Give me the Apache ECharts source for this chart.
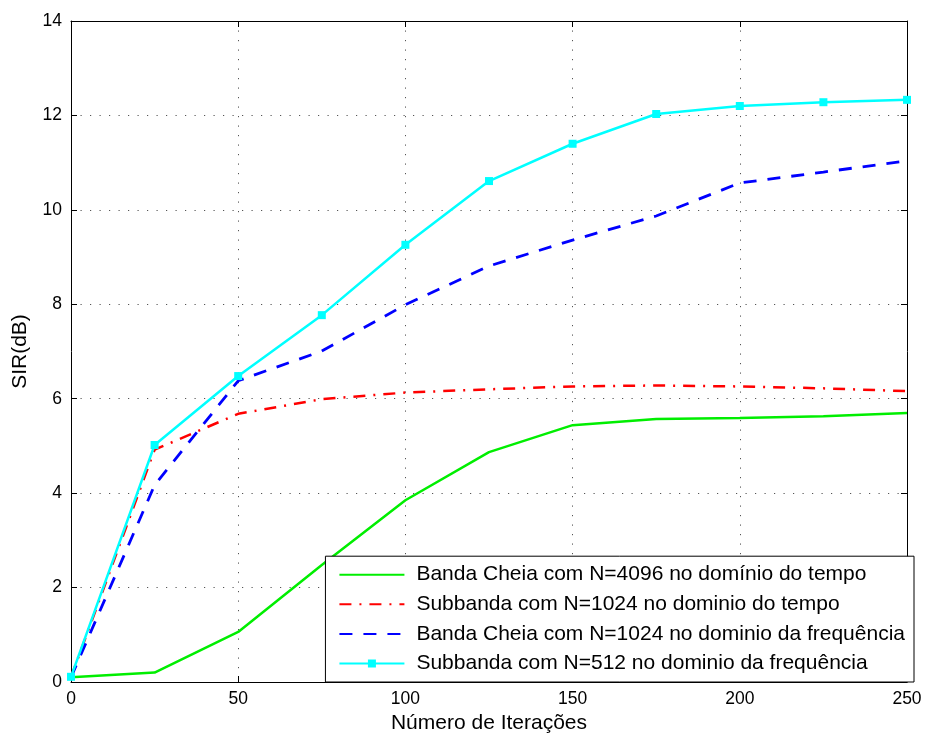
<!DOCTYPE html>
<html><head><meta charset="utf-8">
<script src="https://cdn.jsdelivr.net/npm/echarts@6/dist/echarts.min.js"></script>
<style>html,body{margin:0;padding:0;background:#fff}#c{width:929px;height:740px}</style>
</head><body><div id="c"></div>
<script>
const iterations = [0, 25, 50, 75, 100, 125, 150, 175, 200, 225, 250];
const bandaCheia4096Tempo = [0.1, 0.2, 1.06, 2.48, 3.85, 4.87, 5.44, 5.57, 5.59, 5.63, 5.7];
const subbanda1024Tempo = [0.1, 4.92, 5.68, 5.99, 6.13, 6.2, 6.26, 6.28, 6.26, 6.22, 6.16];
const bandaCheia1024Freq = [0.1, 4.17, 6.38, 7.01, 7.99, 8.81, 9.36, 9.87, 10.57, 10.8, 11.04];
const subbanda512Freq = [0.11, 5.02, 6.48, 7.77, 9.26, 10.61, 11.4, 12.03, 12.2, 12.28, 12.33];
const seriesNames = [
  'Banda Cheia com N=4096 no domínio do tempo',
  'Subbanda com N=1024 no dominio do tempo',
  'Banda Cheia com N=1024 no dominio da frequência',
  'Subbanda com N=512 no dominio da frequência'
];
const xTicks = {min: 0, max: 250, interval: 50};
const yTicks = {min: 0, max: 14, interval: 2};

const pairs = ys => iterations.map((x, i) => [x, ys[i]]);
const font = 'Liberation Sans, Arial, sans-serif';
const chart = echarts.init(document.getElementById('c'), null, {renderer: 'canvas'});
const gridLine = {show: true, lineStyle: {color: '#555', width: 1, type: [1.2, 8.3]}};
const axisLine = {show: true, onZero: false, lineStyle: {color: '#000', width: 1}};
const tick = {show: true, inside: true, length: 6, lineStyle: {color: '#000'}};
const noSym = {opacity: 0};
chart.setOption({
  animation: false,
  backgroundColor: '#fff',
  grid: {left: 71, right: 22, top: 21, bottom: 58},
  legend: {
    orient: 'vertical', right: 15, bottom: 58,
    backgroundColor: '#fff', borderColor: '#000', borderWidth: 1,
    padding: [8, 9, 8, 13], itemGap: 8.6, itemWidth: 65, itemHeight: 10,
    textStyle: {fontSize: 21, fontFamily: font, color: '#000', padding: [0, 0, 0, 7]},
    data: [
      {name: seriesNames[0], itemStyle: noSym},
      {name: seriesNames[1], itemStyle: noSym},
      {name: seriesNames[2], itemStyle: noSym},
      {name: seriesNames[3]}
    ]
  },
  xAxis: [{
    type: 'value', ...xTicks, position: 'bottom',
    name: 'Número de Iterações', nameLocation: 'middle', nameGap: 28,
    nameTextStyle: {fontSize: 21, fontFamily: font, color: '#000'},
    axisLine, axisTick: tick, splitLine: gridLine,
    axisLabel: {fontSize: 17.5, fontFamily: font, color: '#000', margin: 8}
  }, {
    type: 'value', ...xTicks, position: 'top',
    axisLine, axisTick: tick, splitLine: {show: false}, axisLabel: {show: false}
  }],
  yAxis: [{
    type: 'value', ...yTicks, position: 'left',
    name: 'SIR(dB)', nameLocation: 'middle', nameGap: 40,
    nameTextStyle: {fontSize: 21, fontFamily: font, color: '#000'},
    axisLine, axisTick: tick, splitLine: gridLine,
    axisLabel: {fontSize: 17.5, fontFamily: font, color: '#000', margin: 9}
  }, {
    type: 'value', ...yTicks, position: 'right',
    axisLine, axisTick: tick, splitLine: {show: false}, axisLabel: {show: false}
  }],
  series: [
    {name: seriesNames[0], type: 'line', data: pairs(bandaCheia4096Tempo), symbol: 'none',
     lineStyle: {color: '#00ee00', width: 2.5}, itemStyle: {color: '#00ee00'}, z: 2},
    {name: seriesNames[1], type: 'line', data: pairs(subbanda1024Tempo), symbol: 'none',
     lineStyle: {color: '#ff0000', width: 2.5, type: [12, 8, 2, 8]}, itemStyle: {color: '#ff0000'}, z: 3},
    {name: seriesNames[2], type: 'line', data: pairs(bandaCheia1024Freq), symbol: 'none',
     lineStyle: {color: '#0000ff', width: 2.8, type: [13, 11]}, itemStyle: {color: '#0000ff'}, z: 4},
    {name: seriesNames[3], type: 'line', data: pairs(subbanda512Freq), symbol: 'rect', symbolSize: 8,
     lineStyle: {color: '#00ffff', width: 2.5}, itemStyle: {color: '#00ffff'}, z: 5}
  ]
});
</script></body></html>
